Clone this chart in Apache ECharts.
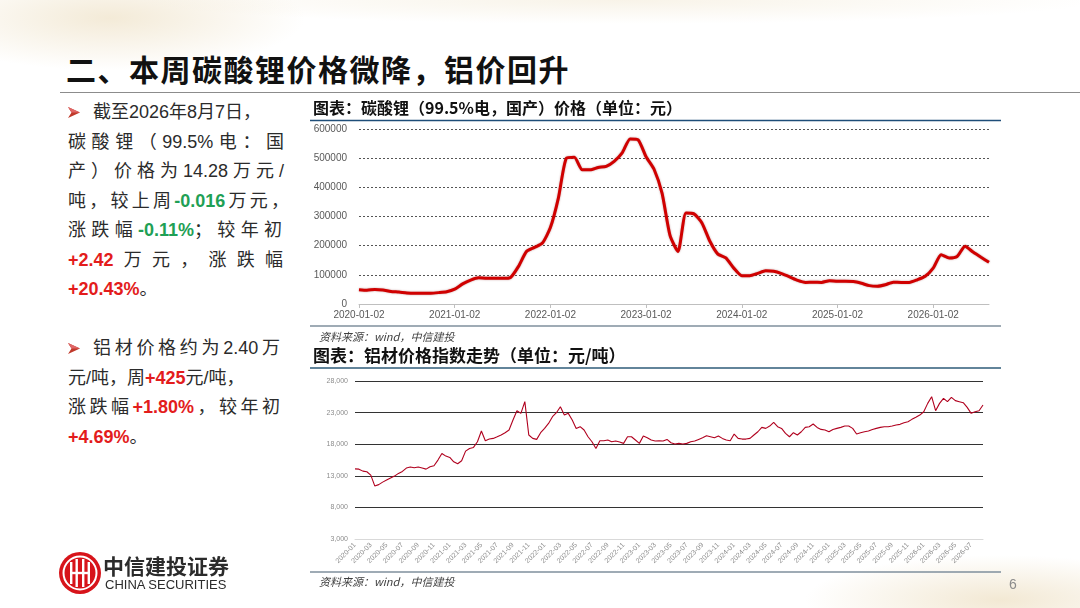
<!DOCTYPE html>
<html>
<head>
<meta charset="utf-8">
<script src="https://cdn.jsdelivr.net/npm/echarts@6/dist/echarts.min.js"></script>
<style>
    body { margin: 0; }
    #slide {
        position: relative; width: 1080px; height: 608px; overflow: hidden;
        background:
            radial-gradient(ellipse 260px 70px at 110px 18px, rgba(232,214,176,0.5), rgba(255,255,255,0) 75%),
            radial-gradient(ellipse 600px 30px at 620px 0px, rgba(238,226,198,0.4), rgba(255,255,255,0) 80%),
            radial-gradient(ellipse 260px 60px at 1000px 600px, rgba(232,214,176,0.55), rgba(255,255,255,0) 75%),
            #ffffff;
        font-family: "Liberation Sans", "Noto Sans CJK SC", sans-serif;
    }
    #chart { position: absolute; left: 0; top: 0; width: 1080px; height: 608px; }
    .title {
        position: absolute; left: 66px; top: 48px; font-size: 30px; line-height: 40px;
        font-weight: 700; letter-spacing: 1.5px; color: #111;
        font-family: "Noto Sans CJK SC", sans-serif;
    }
    .rule { position: absolute; left: 60px; top: 92px; width: 1020px; height: 1px; background: #8c8c8c; }
    .bl { position: absolute; left: 68px; font-size: 18px; line-height: 29.5px; color: #2b2b2b; }
    .ln { white-space: nowrap; }
    .j { text-align: justify; text-align-last: justify; }
    .first { padding-left: 25px; position: relative; }
    .arr { position: absolute; left: 0; top: 9px; }
    .g { color: #1fa055; font-weight: 700; }
    .r { color: #e31c1c; font-weight: 700; }
    .logo { position: absolute; left: 58px; top: 551px; }
    .cn { position: absolute; left: 103px; top: 552px; font-size: 21px; line-height: 26px; font-weight: 700;
          color: #2b2b2b; font-family: "Noto Sans CJK SC", serif; letter-spacing: 0px; }
    .en { position: absolute; left: 105px; top: 577px; font-size: 13px; line-height: 16px; color: #2b2b2b; }
    .page { position: absolute; left: 1009px; top: 576px; font-size: 14px; color: #8c8c8c; }
</style>
</head>
<body>
<div id="slide">
    <div class="title">二、本周碳酸锂价格微降，铝价回升</div>
    <div class="rule"></div>

    <!--碳酸锂-->
    <div class="bl" style="top:98px">
        <div class="ln first"><svg class="arr" width="12" height="11" viewBox="0 0 12 11"><polygon points="0,0 12,5.5 0,11 3.5,5.5" fill="#c0392b"/><polygon points="0,0 12,5.5 3.5,5.5" fill="#e06666"/></svg>截至2026年8月7日，</div>
        <div class="ln j" style="width:216px">碳酸锂（99.5%电：国</div>
        <div class="ln j" style="width:216px">产）价格为14.28万元/</div>
        <div class="ln j" style="width:221px">吨，较上周<span class="g">-0.016</span>万元，</div>
        <div class="ln j" style="width:214px">涨跌幅<span class="g">-0.11%</span>；较年初</div>
        <div class="ln j" style="width:215px"><span class="r">+2.42</span>万元，涨跌幅</div>
        <div class="ln"><span class="r">+20.43%</span>。</div>
    </div>

    <!--铝材-->
    <div class="bl" style="top:334px">
        <div class="ln first j" style="width:187px"><svg class="arr" width="12" height="11" viewBox="0 0 12 11"><polygon points="0,0 12,5.5 0,11 3.5,5.5" fill="#c0392b"/><polygon points="0,0 12,5.5 3.5,5.5" fill="#e06666"/></svg>铝材价格约为2.40万</div>
        <div class="ln">元/吨，周<span class="r">+425</span>元/吨，</div>
        <div class="ln j" style="width:212px">涨跌幅<span class="r">+1.80%</span>，较年初</div>
        <div class="ln"><span class="r">+4.69%</span>。</div>
    </div>

    <div id="chart"></div>

    <svg class="logo" width="44" height="44" viewBox="0 0 44 44">
        <circle cx="22" cy="22" r="21" fill="#d7141a"/>
        <circle cx="22" cy="22" r="16.5" fill="none" stroke="#fff" stroke-width="2"/>
        <rect x="12" y="11" width="2.4" height="22" fill="#fff"/>
        <rect x="17.5" y="8" width="2.4" height="28" fill="#fff"/>
        <rect x="24" y="8" width="2.4" height="28" fill="#fff"/>
        <rect x="29.6" y="11" width="2.4" height="22" fill="#fff"/>
        <rect x="12" y="20.8" width="20" height="2.4" fill="#fff"/>
    </svg>
    <div class="cn">中信建投证券</div>
    <div class="en">CHINA SECURITIES</div>
    <div class="page">6</div>
</div>

<script>
    // 碳酸锂价格（元），每月一个点，2020-01 至 2026-08
    var li2020 = [49000, 47000, 50000, 48000, 43000, 41000, 38000, 37000, 37000, 37000, 39000, 42000];
    var li2021 = [51000, 69000, 82000, 90000, 88000, 88000, 88000, 91000, 129000, 180000, 194000, 209000];
    var li2022 = [262000, 363000, 500000, 503000, 460000, 460000, 468000, 472000, 489000, 518000, 566000, 563000];
    var li2023 = [505000, 462000, 380000, 235000, 180000, 312000, 309000, 278000, 215000, 171000, 158000, 123000];
    var li2024 = [97000, 97000, 105000, 114000, 112000, 104000, 93000, 81000, 74000, 75000, 74000, 80000];
    var li2025 = [78000, 78000, 77000, 71000, 63000, 61000, 66000, 75000, 74000, 74000, 83000, 95000];
    var li2026 = [123000, 169000, 158000, 163000, 198000, 178000, 160000, 142800];

    // 铝材价格指数（元/吨），每半月一个点，2020-01 至 2026-08-07
    var al2020 = [14100, 14050, 13740, 13640, 13110, 11400, 11600, 12000, 12320, 12640, 12950, 13380,
                  13690, 14220, 14380, 14270, 14380, 14220, 14060, 14430, 14590, 15490, 16540, 16120];
    var al2021 = [15910, 15220, 14900, 15380, 16910, 17330, 17490, 18390, 20080, 18550, 18810, 18920,
                  19180, 19450, 19820, 20240, 21820, 23300, 22880, 24730, 19450, 18920, 18760, 19820];
    var al2022 = [20500, 21290, 22350, 22980, 23930, 22610, 22880, 21820, 20500, 20770, 20240, 19180,
                  18390, 17330, 18550, 18550, 18660, 18390, 18500, 18340, 18130, 19180, 19180, 18660];
    var al2023 = [18130, 19290, 19020, 18660, 18500, 18550, 18500, 18760, 18230, 18020, 18130, 18020,
                  18130, 18390, 18500, 18760, 19020, 19340, 19180, 19020, 19290, 18920, 18660, 18550];
    var al2024 = [19610, 18920, 18810, 18810, 18920, 19450, 19970, 20660, 20500, 20870, 21450, 20770,
                  20500, 19710, 19180, 19820, 19450, 19970, 20660, 20770, 21190, 20660, 20340, 20240];
    var al2025 = [19970, 20340, 20500, 20660, 20870, 20870, 20500, 19610, 19820, 19970, 20080, 20340,
                  20500, 20660, 20770, 20770, 20870, 21030, 21140, 21400, 21560, 21930, 22250, 22610];
    var al2026 = [23140, 24460, 25520, 23300, 24460, 25260, 24730, 25410, 24890, 24730, 24570, 23830,
                  22880, 23140, 23300, 24200];

    var liValues = [].concat(li2020, li2021, li2022, li2023, li2024, li2025, li2026);
    var alValues = [].concat(al2020, al2021, al2022, al2023, al2024, al2025, al2026);

    function pad(n) { return n < 10 ? '0' + n : '' + n; }

    // 日期类目
    var liDates = [], alDates = [];
    for (var y = 2020; y <= 2026; y++) {
        for (var m = 1; m <= 12; m++) {
            if (y === 2026 && m > 8) break;
            liDates.push(y + '-' + pad(m) + '-02');
            if (y === 2026 && m === 8) {
                alDates.push('2026-08-01', '2026-08-07');
            } else {
                alDates.push(y + '-' + pad(m) + '-01', y + '-' + pad(m) + '-16');
            }
        }
    }
    liDates[liDates.length - 1] = '2026-08-07';

    var yearTick = function (i, v) { return v.slice(5) === '01-02'; };
    var twoMonth = function (i) { return i % 4 === 0 && i <= 156; };
    var cjk = '"Noto Sans CJK SC", sans-serif';
    var num = '"Liberation Sans", Arial, sans-serif';

    var option = {
        animation: false,
        grid: [
            {left: 359, right: 91, top: 129, bottom: 304},
            {left: 355, right: 97, top: 381, bottom: 69}
        ],
        xAxis: [
            {
                gridIndex: 0, type: 'category', data: liDates, boundaryGap: false,
                axisLine: {lineStyle: {color: '#bfbfbf'}},
                axisTick: {interval: yearTick, length: 4, lineStyle: {color: '#bfbfbf'}},
                axisLabel: {interval: yearTick, color: '#595959', fontSize: 10, margin: 6, fontFamily: num}
            },
            {
                gridIndex: 1, type: 'category', data: alDates, boundaryGap: false,
                axisLine: {lineStyle: {color: '#d9d9d9'}},
                axisTick: {show: false},
                axisLabel: {
                    interval: twoMonth, rotate: 45, color: '#8c8c8c', fontSize: 7, margin: 5, fontFamily: num,
                    formatter: function (v) { return v.slice(0, 7); }
                }
            }
        ],
        yAxis: [
            {
                gridIndex: 0, type: 'value', min: 0, max: 600000, interval: 100000,
                axisLine: {show: false}, axisTick: {show: false},
                axisLabel: {color: '#595959', fontSize: 10, margin: 12, fontFamily: num,
                    formatter: function (v) { return String(v); }},
                splitLine: {lineStyle: {color: '#555', type: [2, 2], width: 1}}
            },
            {
                gridIndex: 1, type: 'value', min: 3000, max: 28000, interval: 5000,
                axisLine: {show: false}, axisTick: {show: false},
                axisLabel: {
                    color: '#8c8c8c', fontSize: 7, margin: 7, fontFamily: num,
                    formatter: function (v) { return v.toLocaleString('en-US'); }
                },
                splitLine: {lineStyle: {color: '#333', width: 1}}
            }
        ],
        series: [
            {
                name: '碳酸锂', type: 'line', xAxisIndex: 0, yAxisIndex: 0, data: liValues,
                symbol: 'none', smooth: 0.2,
                lineStyle: {color: '#d00000', width: 3, shadowColor: 'rgba(110,0,0,0.4)', shadowBlur: 2}
            },
            {
                name: '铝材', type: 'line', xAxisIndex: 1, yAxisIndex: 1, data: alValues,
                symbol: 'none',
                lineStyle: {color: '#b0001e', width: 1.1}
            }
        ],
        graphic: [
            {type: 'text', left: 313, top: 100, style: {text: '图表：碳酸锂（99.5%电，国产）价格（单位：元）',
                fill: '#111', font: 'bold 16px ' + cjk}},
            {type: 'line', shape: {x1: 310, y1: 120.5, x2: 1001, y2: 120.5}, style: {stroke: '#1f4e79', lineWidth: 1.5}},
            {type: 'line', shape: {x1: 310, y1: 326, x2: 1001, y2: 326}, style: {stroke: '#7f8f9c', lineWidth: 1.5}},
            {type: 'text', left: 319, top: 331, style: {text: '资料来源：wind，中信建投',
                fill: '#404040', font: 'italic 11px ' + cjk}},
            {type: 'text', left: 313, top: 347, style: {text: '图表：铝材价格指数走势（单位：元/吨）',
                fill: '#111', font: 'bold 17px ' + cjk}},
            {type: 'line', shape: {x1: 310, y1: 368, x2: 1001, y2: 368}, style: {stroke: '#2e5b78', lineWidth: 1.5}},
            {type: 'line', shape: {x1: 310, y1: 572, x2: 1001, y2: 572}, style: {stroke: '#7f8f9c', lineWidth: 1.5}},
            {type: 'text', left: 319, top: 576, style: {text: '资料来源：wind，中信建投',
                fill: '#404040', font: 'italic 11px ' + cjk}}
        ]
    };

    var myChart = echarts.init(document.getElementById('chart'));
    myChart.setOption(option);
</script>
</body>
</html>
